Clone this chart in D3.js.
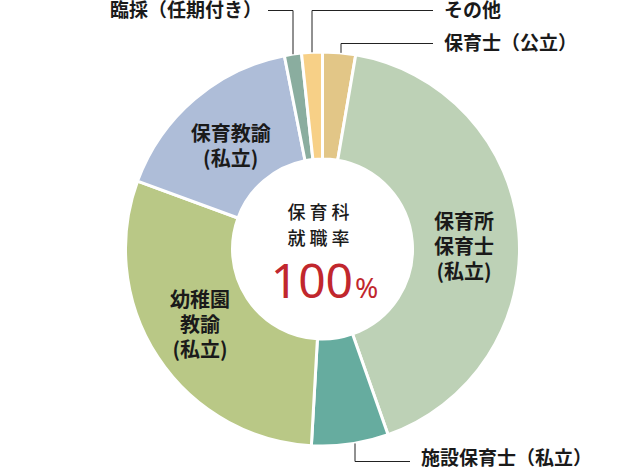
<!DOCTYPE html>
<html>
<head>
<meta charset="utf-8">
<script src="https://cdn.jsdelivr.net/npm/d3@7"></script>
<style>
  body { margin: 0; background: #fff; }
  svg { display: block; }
  text { font-family: "Noto Sans CJK JP", "Noto Sans", sans-serif; fill: #1a1a1a; }
</style>
</head>
<body>
<svg id="chart" width="640" height="468"></svg>
<script>
// categories clockwise from 12 o'clock
const categories = ['保育士（公立）', '保育所保育士（私立）', '施設保育士（私立）', '幼稚園教諭（私立）', '保育教諭（私立）', '臨採（任期付き）', 'その他']
const shares = [2.7, 41.9, 6.3, 29.7, 16.3, 1.4, 1.7]
const colors = ['#e2c687', '#bdd1b6', '#66ac9f', '#b9c886', '#aebdd8', '#8aad9f', '#f7d087']
const centerTitle = ['保育科', '就職率']
const centerValue = '100'

const svg = d3.select('#chart')
const cx = 322.5, cy = 249
const outerR = 197, innerR = 90

const g = svg.append('g').attr('transform', `translate(${cx}, ${cy})`)

const pie = d3.pie().sort(null).value(d => d.value)
const arc = d3.arc().outerRadius(outerR).innerRadius(innerR)
const dados = categories.map((c, i) => ({name: c, value: shares[i]}))
const arcs = pie(dados)

g.selectAll('.arc').data(arcs).enter().append('path')
  .attr('class', 'arc')
  .attr('d', arc)
  .attr('fill', (d, i) => colors[i])
  .attr('stroke', '#fff')
  .attr('stroke-width', 3)

// labels inside the big slices
const inner = [
  {i: 1, lines: ['保育所', '保育士', '(私立)'], dx: -1, dy: 10},
  {i: 3, lines: ['幼稚園', '教諭', '(私立)'], dx: -3, dy: -3},
  {i: 4, lines: ['保育教諭', '(私立)'], dx: 1, dy: 6}
]
const labelArc = d3.arc().innerRadius(143).outerRadius(143)
inner.forEach(function(l) {
  const c = labelArc.centroid(arcs[l.i])
  const t = g.append('text').attr('text-anchor', 'middle').attr('font-size', 20).attr('font-weight', 700)
  const n = l.lines.length
  l.lines.forEach(function(s, k) {
    t.append('tspan').attr('x', c[0] + l.dx).attr('y', c[1] + l.dy + (k - (n - 1) / 2) * 25 + 7).text(s)
  })
})

// outer labels with leader lines
function pt(i, frac) {
  const a = arcs[i]
  const ang = a.startAngle + (a.endAngle - a.startAngle) * frac
  return [Math.sin(ang) * outerR, -Math.cos(ang) * outerR]
}
const outer = [
  {i: 0, frac: 0.55, y: 43 - cy, x2: 433 - cx, anchor: 'start', tx: 444 - cx, ty: 7},
  {i: 6, frac: 0.5, y: 10 - cy, x2: 433 - cx, anchor: 'start', tx: 444 - cx, ty: 7},
  {i: 5, frac: 0.5, y: 10 - cy, x2: 268 - cx, anchor: 'end', tx: 262 - cx, ty: 7},
  {i: 2, frac: 0.45, y: 461 - cy, x2: 410 - cx, anchor: 'start', tx: 421 - cx, ty: 4}
]
outer.forEach(function(o) {
  const p = pt(o.i, o.frac)
  const x = Math.round(p[0]) + 0.5
  g.append('path')
    .attr('d', `M${x},${p[1]}V${o.y + 0.5}H${o.x2}`)
    .attr('fill', 'none')
    .attr('stroke', '#222')
    .attr('stroke-width', 1)
  g.append('text')
    .attr('x', o.tx).attr('y', o.y + o.ty)
    .attr('text-anchor', o.anchor)
    .attr('font-size', 19).attr('font-weight', 700)
    .text(categories[o.i])
})

// centre text
centerTitle.forEach(function(s, k) {
  g.append('text').attr('x', -2).attr('y', -37 + k * 26 + 7)
    .attr('text-anchor', 'middle').attr('font-size', 18).attr('letter-spacing', 4)
    .attr('font-weight', 500)
    .text(s)
})
const v = g.append('text').attr('x', 2).attr('y', 49).attr('text-anchor', 'middle')
  .style('fill', '#c1272d')
v.append('tspan').attr('font-size', 48).attr('font-family', '"Noto Sans", sans-serif').text(centerValue)
v.append('tspan').attr('font-size', 28).attr('font-family', '"Noto Sans", sans-serif').attr('dx', 2).text('%')
</script>
</body>
</html>
